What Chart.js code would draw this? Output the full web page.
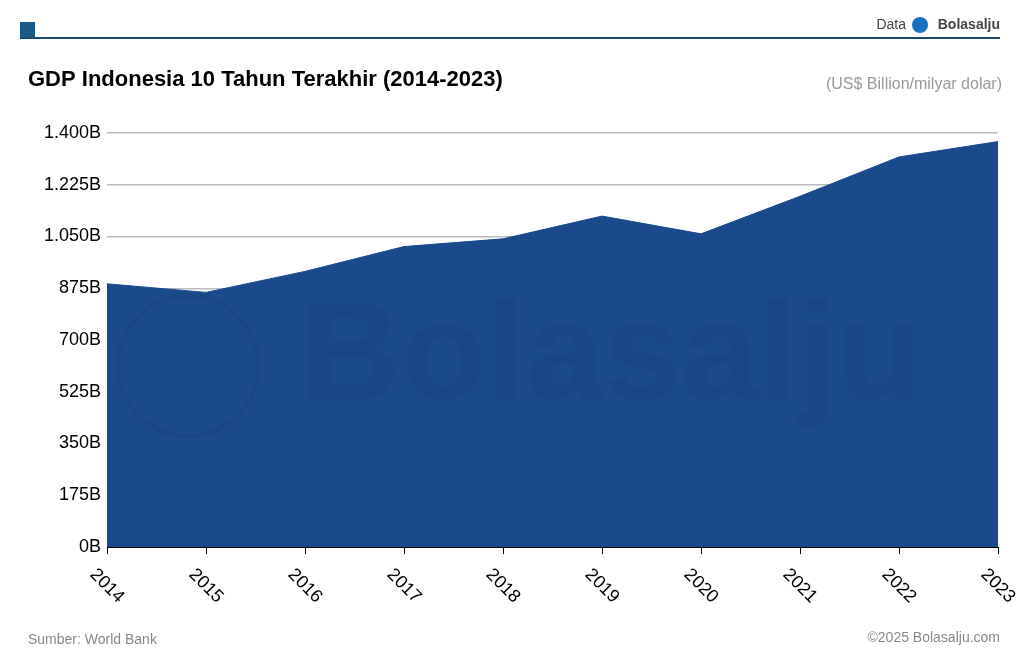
<!DOCTYPE html>
<html><head><meta charset="utf-8">
<script src="https://cdn.jsdelivr.net/npm/chart.js@4/dist/chart.umd.min.js"></script>
<style>html,body{margin:0;padding:0;background:#fff}#w{position:relative;width:1029px;height:663px}canvas{position:absolute;left:0;top:0}</style>
</head><body><div id="w"><canvas id="c" width="1029" height="663"></canvas></div>
<script>
const years=['2014','2015','2016','2017','2018','2019','2020','2021','2022','2023'];
const gdp=[890,861,932,1016,1042,1119,1059,1186,1319,1371];
const yTicks=[0,175,350,525,700,875,1050,1225,1400];
const fmt=v=>v.toLocaleString('de-DE')+'B';
const F='"Liberation Sans", Arial, sans-serif';
const deco={id:'deco',afterDatasetsDraw(ch){
 const c=ch.ctx;c.save();
 c.fillStyle='rgba(30,60,110,0.22)';c.font='bold 140px '+F;c.textBaseline='middle';
 c.fillText('Bolasalju',300,360);
 c.strokeStyle='rgba(30,60,110,0.25)';c.lineWidth=4;c.beginPath();c.arc(188,366,70,0,Math.PI*2);c.stroke();
 c.restore();
},afterDraw(ch){
 const c=ch.ctx;c.save();
 c.fillStyle='#1b5a86';c.fillRect(20,22,15,16);
 c.fillStyle='#1b4a72';c.fillRect(20,37,980,2);
 c.fillStyle='#444';c.textAlign='right';c.textBaseline='middle';
 c.font='bold 14px '+F;c.fillText('Bolasalju',1000,25);
 c.font='14px '+F;c.fillText('Data',906,25);
 c.fillStyle='#1a6fc0';c.beginPath();c.arc(920,25,8,0,Math.PI*2);c.fill();
 c.textAlign='left';c.fillStyle='#000';c.font='bold 22px '+F;c.fillText('GDP Indonesia 10 Tahun Terakhir (2014-2023)',28,80);
 c.textAlign='right';c.fillStyle='#999';c.font='16px '+F;c.fillText('(US$ Billion/milyar dolar)',1002,85);
 c.fillStyle='#888';c.font='14px '+F;c.textAlign='left';c.fillText('Sumber: World Bank',28,640);
 c.textAlign='right';c.fillText('©2025 Bolasalju.com',1000,638);
 const xs=ch.scales.x;c.fillStyle='#000';c.font='18px '+F;c.textAlign='center';c.textBaseline='middle';
 years.forEach((y,i)=>{const x=xs.getPixelForValue(i);c.save();c.translate(x,586);c.rotate(Math.PI/4);c.fillText(y,0,0);c.restore();});
 c.restore();
}};
new Chart(document.getElementById('c'),{type:'line',
 data:{labels:years,datasets:[{data:gdp,fill:'origin',backgroundColor:'#1a4a8c',borderColor:'#1a4a8c',borderWidth:1,pointRadius:0,tension:0}]},
 options:{responsive:false,animation:false,layout:{padding:{left:0,right:31,top:133,bottom:0}},
  plugins:{legend:{display:false},tooltip:{enabled:false}},
  scales:{
   x:{offset:false,afterFit:s=>{s.height=116},ticks:{display:false},grid:{drawOnChartArea:false,drawTicks:true,tickLength:7,color:'#000'},border:{color:'#000',width:1}},
   y:{min:0,max:1400,afterFit:s=>{s.width=107},afterBuildTicks:s=>{s.ticks=yTicks.map(v=>({value:v}))},
      ticks:{callback:v=>fmt(v),color:'#000',font:{size:18,family:F},padding:6},
      grid:{color:'#bbb',drawTicks:false,lineWidth:1.5},border:{display:false}}
  }},plugins:[deco]});
</script></body></html>
